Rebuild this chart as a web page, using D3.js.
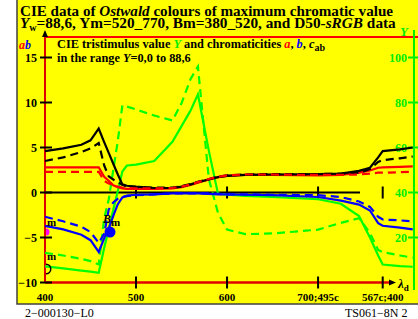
<!DOCTYPE html>
<meta charset="utf-8" />
<script src="https://d3js.org/d3.v7.min.js"></script>
<style>
  body { margin: 0; background: #fff; }
  text { font-family: "Liberation Serif", "DejaVu Serif", serif; font-weight: bold; }
</style>
<div id="chart"></div>
<script>
  // wavelength grid (values past 700 are compensatory / purple positions)
  const lambda = [400, 420, 440, 450, 459, 465, 470, 475, 480, 485, 490, 500, 520, 540, 550, 560, 568, 580, 590, 600, 620, 650, 700, 725, 745, 757, 766, 771, 790, 804];

  // chroma c_ab (black), a (red), b (blue): solid and dashed series
  const cabSolid = [4.6, 4.9, 5.3, 5.8, 7.1, 5.6, 4.4, 3.2, 2.0, 0.9, 0.75, 0.65, 0.5, 0.5, 0.65, 0.9, 1.15, 1.45, 1.7, 1.85, 1.95, 2.0, 2.05, 2.1, 2.4, 2.75, 3.9, 4.6, 4.8, 5.0];
  const cabDash = [3.5, 3.9, 4.5, 4.9, 5.5, 3.0, 1.8, 1.45, 1.15, 0.85, 0.65, 0.6, 0.55, 0.55, 0.7, 0.95, 1.2, 1.5, 1.75, 1.9, 2.0, 2.05, 2.05, 2.1, 2.2, 2.6, 3.4, 3.6, 3.8, 4.0];
  const aSolid = [2.8, 2.8, 2.8, 2.8, 2.8, 1.75, 1.3, 0.8, 0.6, 0.45, 0.4, 0.4, 0.4, 0.45, 0.6, 0.85, 1.1, 1.45, 1.7, 1.85, 1.95, 1.95, 1.9, 1.95, 2.2, 2.45, 2.75, 2.8, 2.85, 2.9];
  const aDash = [2.3, 2.3, 2.3, 2.3, 2.3, 1.3, 1.0, 0.85, 0.65, 0.55, 0.5, 0.45, 0.45, 0.5, 0.65, 0.9, 1.15, 1.5, 1.75, 1.9, 2.0, 2.0, 1.95, 1.95, 2.0, 2.1, 2.2, 2.2, 2.25, 2.3];
  const bSolid = [-3.7, -4.1, -4.7, -5.3, -6.6, -5.1, -4.0, -2.6, -1.3, -0.55, -0.35, -0.25, -0.2, -0.1, -0.1, -0.1, -0.1, -0.15, -0.2, -0.2, -0.25, -0.3, -0.5, -0.9, -1.35, -2.0, -3.4, -3.7, -3.9, -4.1];
  const bDash = [-2.7, -3.2, -3.8, -4.4, -5.6, -4.6, -1.9, -1.1, -0.7, -0.5, -0.4, -0.3, -0.2, -0.1, -0.1, -0.1, -0.1, -0.1, -0.15, -0.2, -0.2, -0.25, -0.3, -0.5, -1.0, -1.6, -2.7, -3.0, -3.1, -3.2];

  // tristimulus Y (green, right axis)
  const YSolid = [7.2, 6.3, 5.3, 4.8, 4.3, 15.3, 23.7, 32.3, 40.7, 49.3, 52, 52.4, 54, 62.5, 69.5, 76.5, 83.6, 58.5, 39.5, 39, 38.5, 38, 37, 35, 29.5, 20, 12, 8, 7.3, 7];
  const YDash = [13.2, 12, 10.5, 9.5, 8, 28.4, 36.9, 50, 63, 78.7, 78.2, 76.9, 74.2, 72, 79.7, 90.5, 96, 46, 31, 23.5, 21.5, 21.8, 23.5, 26.5, 28.6, 22, 14.5, 13.5, 12, 11];

  // axis ticks
  const abTicks = [15, 10, 5, 0, -5, -10];
  const YTicks = [100, 80, 60, 40, 20];
  const xTicks = [400, 500, 600, 700, 771];
  const xTickLabels = ["400", "500", "600", "700;495c", "567c;400"];

  // special points
  const Bm = { lambda: 471.4, b: -4.4 };
  const magentaM = { lambda: 400, a: -4.4 };
  const blackM = { lambda: 400, a: -8.5 };

  const W = 418, H = 319;
  const svg = d3.select("#chart").append("svg").attr("width", W).attr("height", H);

  // yellow panel
  svg.append("rect").attr("x", 17).attr("y", -3).attr("width", 405).attr("height", 307)
    .attr("fill", "#ffff00").attr("stroke", "#404040").attr("stroke-width", 1.5);

  const x = d3.scaleLinear().domain([400, 771]).range([45, 382.7]);
  const yA = d3.scaleLinear().domain([-10, 15]).range([282.5, 57.5]);
  const yY = d3.scaleLinear().domain([0, 100]).range([282.5, 57.5]);

  // title
  const t1 = svg.append("text").attr("x", 20).attr("y", 16).style("font-size", "15.5px")
    .attr("textLength", 373).attr("lengthAdjust", "spacingAndGlyphs");
  t1.append("tspan").text("CIE data of ");
  t1.append("tspan").style("font-style", "italic").text("Ostwald");
  t1.append("tspan").text(" colours of maximum chromatic value");
  const t2 = svg.append("text").attr("x", 20).attr("y", 28).style("font-size", "15.3px");
  t2.append("tspan").style("font-style", "italic").text("Y");
  t2.append("tspan").attr("dy", 3).style("font-size", "10px").text("w");
  t2.append("tspan").attr("dy", -3).text("=88,6, Ym=520_770, Bm=380_520, and D50-");
  t2.append("tspan").style("font-style", "italic").text("sRGB");
  t2.append("tspan").text(" data");

  // frame lines
  svg.append("line").attr("x1", 45).attr("x2", 418).attr("y1", 37).attr("y2", 37)
    .attr("stroke", "#ff0000").attr("stroke-width", 2);
  svg.append("line").attr("x1", 45).attr("x2", 45).attr("y1", 36).attr("y2", yA(-10))
    .attr("stroke", "#e00000").attr("stroke-width", 2);
  svg.append("line").attr("x1", 45).attr("x2", 393).attr("y1", yA(-10)).attr("y2", yA(-10))
    .attr("stroke", "#e00000").attr("stroke-width", 2.5);
  // arrows
  svg.append("path").attr("d", "M45,30 L42,37 L48,37 Z").attr("fill", "#000");
  svg.append("path").attr("d", `M396,${yA(-10)} L389,${yA(-10) - 3} L389,${yA(-10) + 3} Z`).attr("fill", "#000");
  const ld = svg.append("text").attr("x", 398).attr("y", 288).style("font-size", "13px");
  ld.append("tspan").style("font-style", "italic").text("λ");
  ld.append("tspan").attr("dy", 3).style("font-size", "9px").text("d");

  // green right axis
  svg.append("line").attr("x1", 414).attr("x2", 414).attr("y1", 30).attr("y2", 290)
    .attr("stroke", "#00ee00").attr("stroke-width", 2);
  svg.append("text").attr("x", 400).attr("y", 36).attr("fill", "#00ee00")
    .style("font-style", "italic").style("font-size", "13px").text("Y");
  svg.selectAll(".yt").data(YTicks).join("line")
    .attr("x1", 408).attr("x2", 418).attr("y1", d => yY(d)).attr("y2", d => yY(d))
    .attr("stroke", "#00ee00").attr("stroke-width", 2);
  svg.selectAll(".yl").data(YTicks).join("text")
    .attr("x", 407).attr("y", d => yY(d) + 4).attr("text-anchor", "end")
    .attr("fill", "#00ee00").style("font-size", "12px").text(d => d);

  // left axis ticks
  svg.selectAll(".at").data(abTicks).join("line")
    .attr("x1", 40).attr("x2", 52).attr("y1", d => yA(d)).attr("y2", d => yA(d))
    .attr("stroke", "#000").attr("stroke-width", 2);
  svg.selectAll(".al").data(abTicks).join("text")
    .attr("x", 37).attr("y", d => yA(d) + 4).attr("text-anchor", "end")
    .style("font-size", "12px").text(d => (d < 0 ? "\u2212" + -d : d));
  const ab = svg.append("text").attr("x", 19).attr("y", 49).style("font-size", "12px").style("font-style", "italic");
  ab.append("tspan").attr("fill", "#ff0000").text("a");
  ab.append("tspan").attr("fill", "#0000ff").text("b");

  // legend text
  const l1 = svg.append("text").attr("x", 57).attr("y", 48).style("font-size", "12.3px");
  l1.append("tspan").text("CIE tristimulus value ");
  l1.append("tspan").attr("fill", "#00ee00").style("font-style", "italic").text("Y");
  l1.append("tspan").text(" and chromaticities ");
  l1.append("tspan").attr("fill", "#ff0000").style("font-style", "italic").text("a");
  l1.append("tspan").text(", ");
  l1.append("tspan").attr("fill", "#0000ff").style("font-style", "italic").text("b");
  l1.append("tspan").text(", ");
  l1.append("tspan").style("font-style", "italic").text("c");
  l1.append("tspan").attr("dy", 3).style("font-size", "10px").text("ab");
  const l2 = svg.append("text").attr("x", 57).attr("y", 62).style("font-size", "12.3px");
  l2.append("tspan").text("in the range ");
  l2.append("tspan").style("font-style", "italic").text("Y");
  l2.append("tspan").text("=0,0 to 88,6");

  // zero line and ticks
  svg.append("line").attr("x1", 45).attr("x2", 360).attr("y1", yA(0)).attr("y2", yA(0))
    .attr("stroke", "#000").attr("stroke-width", 2);
  svg.selectAll(".zt").data(xTicks.slice(1)).join("line")
    .attr("x1", d => x(d)).attr("x2", d => x(d)).attr("y1", yA(0) - 6).attr("y2", yA(0) + 6)
    .attr("stroke", "#000").attr("stroke-width", 2);
  svg.selectAll(".bt").data(xTicks.slice(1)).join("line")
    .attr("x1", d => x(d)).attr("x2", d => x(d)).attr("y1", yA(-10) - 6).attr("y2", yA(-10) + 6)
    .attr("stroke", "#000").attr("stroke-width", 2);
  svg.selectAll(".xl").data(xTicks).join("text")
    .attr("x", d => x(d)).attr("y", 301).attr("text-anchor", "middle")
    .style("font-size", "11px").text((d, i) => xTickLabels[i]);

  // curves
  const series = [
    { v: YDash, yS: yY, color: "#00ff00", dash: true },
    { v: YSolid, yS: yY, color: "#00ff00", dash: false },
    { v: bDash, yS: yA, color: "#0000ff", dash: true },
    { v: bSolid, yS: yA, color: "#0000ff", dash: false },
    { v: aSolid, yS: yA, color: "#ff0000", dash: false },
    { v: cabSolid, yS: yA, color: "#000000", dash: false },
    { v: cabDash, yS: yA, color: "#000000", dash: true },
    { v: aDash, yS: yA, color: "#ff0000", dash: true }
  ];
  series.forEach(function (s) {
    const line = d3.line().x((d, i) => x(lambda[i])).y(d => s.yS(d));
    svg.append("path").datum(s.v).attr("d", line)
      .attr("fill", "none").attr("stroke", s.color).attr("stroke-width", 2.2)
      .attr("stroke-dasharray", s.dash ? "8,5" : null);
  });

  // special markers
  svg.append("circle").attr("cx", x(Bm.lambda)).attr("cy", yA(Bm.b)).attr("r", 5.5).attr("fill", "#0000ff");
  const bl = svg.append("text").attr("x", x(Bm.lambda) - 7).attr("y", yA(Bm.b) - 9).style("font-size", "12px");
  bl.append("tspan").style("font-style", "italic").text("B");
  bl.append("tspan").attr("dy", 3).style("font-size", "11px").text("m");
  svg.append("path")
    .attr("d", d3.arc().innerRadius(0).outerRadius(3.5).startAngle(0).endAngle(Math.PI)())
    .attr("transform", `translate(${x(magentaM.lambda) + 1},${yA(magentaM.a)})`).attr("fill", "#ff00ff");
  svg.append("path")
    .attr("d", d3.arc().innerRadius(4).outerRadius(5.5).startAngle(0).endAngle(Math.PI)())
    .attr("transform", `translate(${x(blackM.lambda) + 1},${yA(blackM.a)})`).attr("fill", "#000");
  svg.append("text").attr("x", 47).attr("y", yA(magentaM.a) - 6).style("font-size", "11px").text("m");
  svg.append("text").attr("x", 47).attr("y", yA(blackM.a) - 9).style("font-size", "11px").text("m");

  // footer
  svg.append("text").attr("x", 25).attr("y", 317).style("font-weight", "normal").style("font-size", "12px").text("2\u2212000130\u2212L0");
  svg.append("text").attr("x", 345).attr("y", 317).style("font-weight", "normal").style("font-size", "12px").text("TS061\u22128N 2");
</script>
